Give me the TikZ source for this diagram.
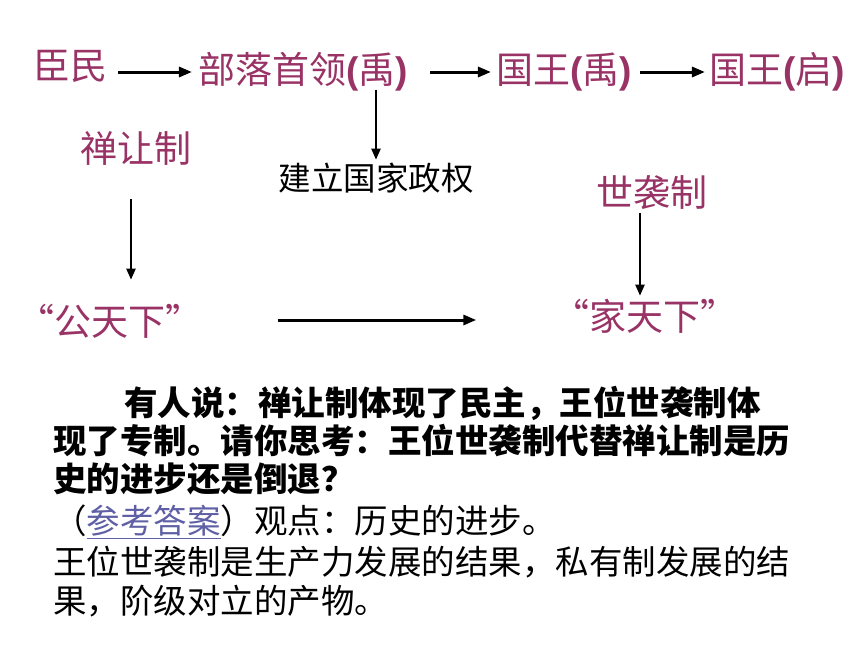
\documentclass[tikz,border=0pt]{standalone}
\usepackage{fontspec}
\setmainfont{Noto Sans CJK SC}
\newfontfamily\cjk{Noto Sans CJK SC}
\newfontfamily\lat{Liberation Sans}
\usetikzlibrary{arrows.meta}
\definecolor{plum}{RGB}{153,51,102}
\definecolor{linkc}{RGB}{95,95,165}
\tikzset{
  lab/.style={inner sep=0pt, text=plum, font=\cjk\fontsize{37}{40}\selectfont},
  plain/.style={inner sep=0pt, text=black, font=\cjk\fontsize{32.5}{36}\selectfont},
  para/.style={inner sep=0pt, anchor=west, text=black, font=\cjk\fontsize{33.5}{38}\selectfont},
  bpara/.style={para, font=\cjk\bfseries\fontsize{33.5}{38}\selectfont},
  thick arrow/.style={line width=3pt, -{Triangle[length=13pt,width=10pt]}},
  thin arrow/.style={line width=2.2pt, -{Triangle[length=11pt,width=9pt]}},
}
\newcommand{\pl}[1]{{\lat\bfseries #1}}
\begin{document}
\begin{tikzpicture}[x=1pt,y=-1pt]
\useasboundingbox (0,0) rectangle (860,645);
% top row
\node[lab] (cm) at (71,66) {臣民};
\node[lab] (bl) at (303,72) {部落首领\pl{(}禹\pl{)}};
\node[lab] (gy) at (564,72) {国王\pl{(}禹\pl{)}};
\node[lab] (gq) at (777,72) {国王\pl{(}启\pl{)}};
\node[plain] (jl) at (376,178) {建立国家政权};
\node[lab] (cr) at (136,148) {禅让制};
\node[lab] (sx) at (652,193) {世袭制};
\node[lab] (gt) at (110,321) {“公天下”};
\node[lab] (jt) at (645,316) {“家天下”};
% arrows
\draw[thick arrow, shorten <=10pt, shorten >=6pt] (cm.east |- bl.west) -- (bl.west);
\draw[thick arrow, shorten <=22pt, shorten >=5pt] (bl.east) -- (gy.west);
\draw[thick arrow, shorten <=8pt, shorten >=4pt] (gy.east) -- (gq.west);
\draw[thin arrow, shorten <=-2pt, shorten >=3pt] (jl.north |- bl.south) -- (jl.north);
\draw[thin arrow, shorten <=34pt, shorten >=24pt] ([xshift=-5pt]cr.south) -- ([xshift=-5pt]cr.south |- gt.north);
\draw[thin arrow, shorten <=3pt, shorten >=3pt] ([xshift=-12pt]sx.south) -- ([xshift=-12pt]sx.south |- jt.north);
\draw[thick arrow, shorten <=75pt, shorten >=76pt] ([yshift=1pt]gt.east) -- ([yshift=1pt]gt.east -| jt.west);
% paragraph
\node[bpara] (p1) at (124,403) {有人说：禅让制体现了民主，王位世袭制体};
\node[bpara] (p2) at (53,441) {现了专制。请你思考：王位世袭制代替禅让制是历};
\node[bpara] (p3) at (53,479) {史的进步还是倒退？};
\node[para] (p4) at (53,522) {（{\color{linkc}\underline{参考答案}}）观点：历史的进步。};
\node[para] (p5) at (53,562) {王位世袭制是生产力发展的结果，私有制发展的结};
\node[para] (p6) at (53,601) {果，阶级对立的产物。};
\end{tikzpicture}
\end{document}
